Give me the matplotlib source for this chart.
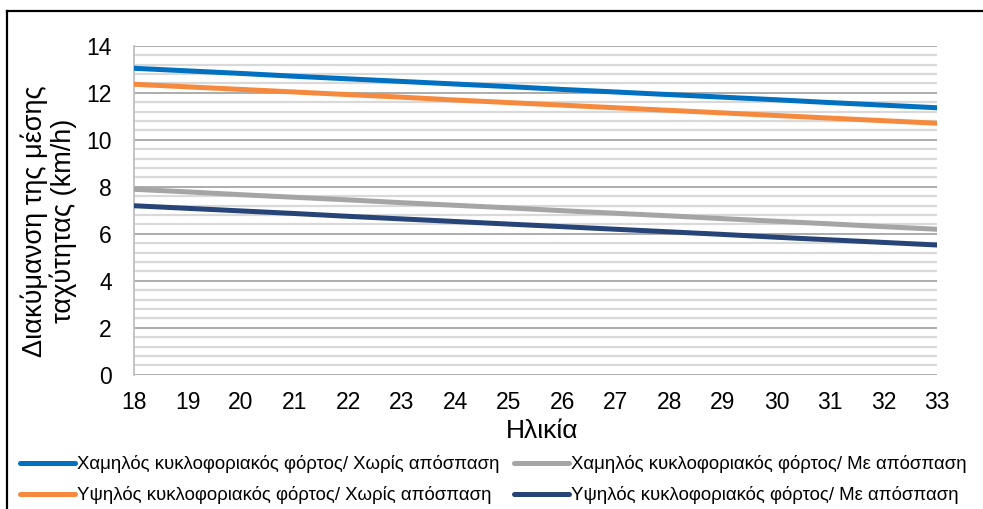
import matplotlib
matplotlib.use("Agg")
import matplotlib.pyplot as plt
from matplotlib.ticker import MultipleLocator
from matplotlib.lines import Line2D

plt.rcParams['font.family'] = ['Liberation Sans', 'DejaVu Sans']

ages = [18, 19, 20, 21, 22, 23, 24, 25, 26, 27, 28, 29, 30, 31, 32, 33]

low_no_distraction = [13.04, 12.93, 12.82, 12.70, 12.59, 12.48, 12.37, 12.26,
                      12.14, 12.03, 11.92, 11.81, 11.70, 11.58, 11.47, 11.36]
high_no_distraction = [12.36, 12.25, 12.14, 12.03, 11.92, 11.81, 11.69, 11.58,
                       11.47, 11.36, 11.25, 11.14, 11.03, 10.92, 10.81, 10.70]
low_distraction = [7.89, 7.78, 7.66, 7.55, 7.44, 7.32, 7.21, 7.10,
                   6.98, 6.87, 6.76, 6.64, 6.53, 6.42, 6.30, 6.19]
high_distraction = [7.19, 7.08, 6.97, 6.86, 6.74, 6.63, 6.52, 6.41,
                    6.30, 6.19, 6.08, 5.97, 5.85, 5.74, 5.63, 5.52]

series = [
    ("Χαμηλός κυκλοφοριακός φόρτος/ Χωρίς απόσπαση", low_no_distraction, "#0070C0"),
    ("Υψηλός κυκλοφοριακός φόρτος/ Χωρίς απόσπαση", high_no_distraction, "#F58A3F"),
    ("Χαμηλός κυκλοφοριακός φόρτος/ Με απόσπαση", low_distraction, "#A5A5A5"),
    ("Υψηλός κυκλοφοριακός φόρτος/ Με απόσπαση", high_distraction, "#264478"),
]

fig = plt.figure(figsize=(9.83, 5.09), dpi=100)
ax = fig.add_axes([0.1363, 0.2638, 0.8169, 0.6464])

handles = []
for label, vals, color in series:
    h, = ax.plot(ages, vals, color=color, lw=3.6, solid_capstyle='round',
                 label=label, zorder=3)
    handles.append(h)

ax.set_xlim(18, 33)
ax.set_ylim(0, 14)
ax.set_xticks(ages)
ax.yaxis.set_major_locator(MultipleLocator(2))
ax.yaxis.set_minor_locator(MultipleLocator(0.4))
ax.set_axisbelow(True)
ax.yaxis.grid(True, which='major', color='#A6A6A6', lw=1.3)
ax.yaxis.grid(True, which='minor', color='#D9D9D9', lw=1.6)
ax.xaxis.grid(False)

for side in ('top', 'right', 'bottom'):
    ax.spines[side].set_visible(False)
ax.spines['left'].set_color('#BFBFBF')
ax.spines['left'].set_linewidth(1.3)

ax.tick_params(axis='both', which='both', length=0, labelsize=16.5)
ax.tick_params(axis='y', pad=16)
ax.tick_params(axis='x', pad=12)

ax.set_xlabel("Ηλικία", fontsize=19)
ax.xaxis.set_label_coords(0.508, -0.135)
ax.set_ylabel("Διακύμανση της μέσης\nταχύτητας (km/h)", fontsize=19.5,
              linespacing=1.05)
ax.yaxis.set_label_coords(-0.071, 0.467)

fig.legend(handles=[handles[0], handles[1], handles[2], handles[3]],
           loc='upper left', bbox_to_anchor=(0.0203, 0.106), ncol=2,
           frameon=False, fontsize=13.4, handlelength=2.95, handletextpad=0.1,
           columnspacing=0.8, labelspacing=0.7, borderpad=0,
           borderaxespad=0)

# outer frame
fig.add_artist(Line2D([7 / 983, 7 / 983], [0, 1 - 11 / 509], color='black',
                      lw=1.6, transform=fig.transFigure))
fig.add_artist(Line2D([7 / 983, 1], [1 - 11 / 509, 1 - 11 / 509], color='black',
                      lw=1.6, transform=fig.transFigure))

fig.savefig("out.png", dpi=100)
